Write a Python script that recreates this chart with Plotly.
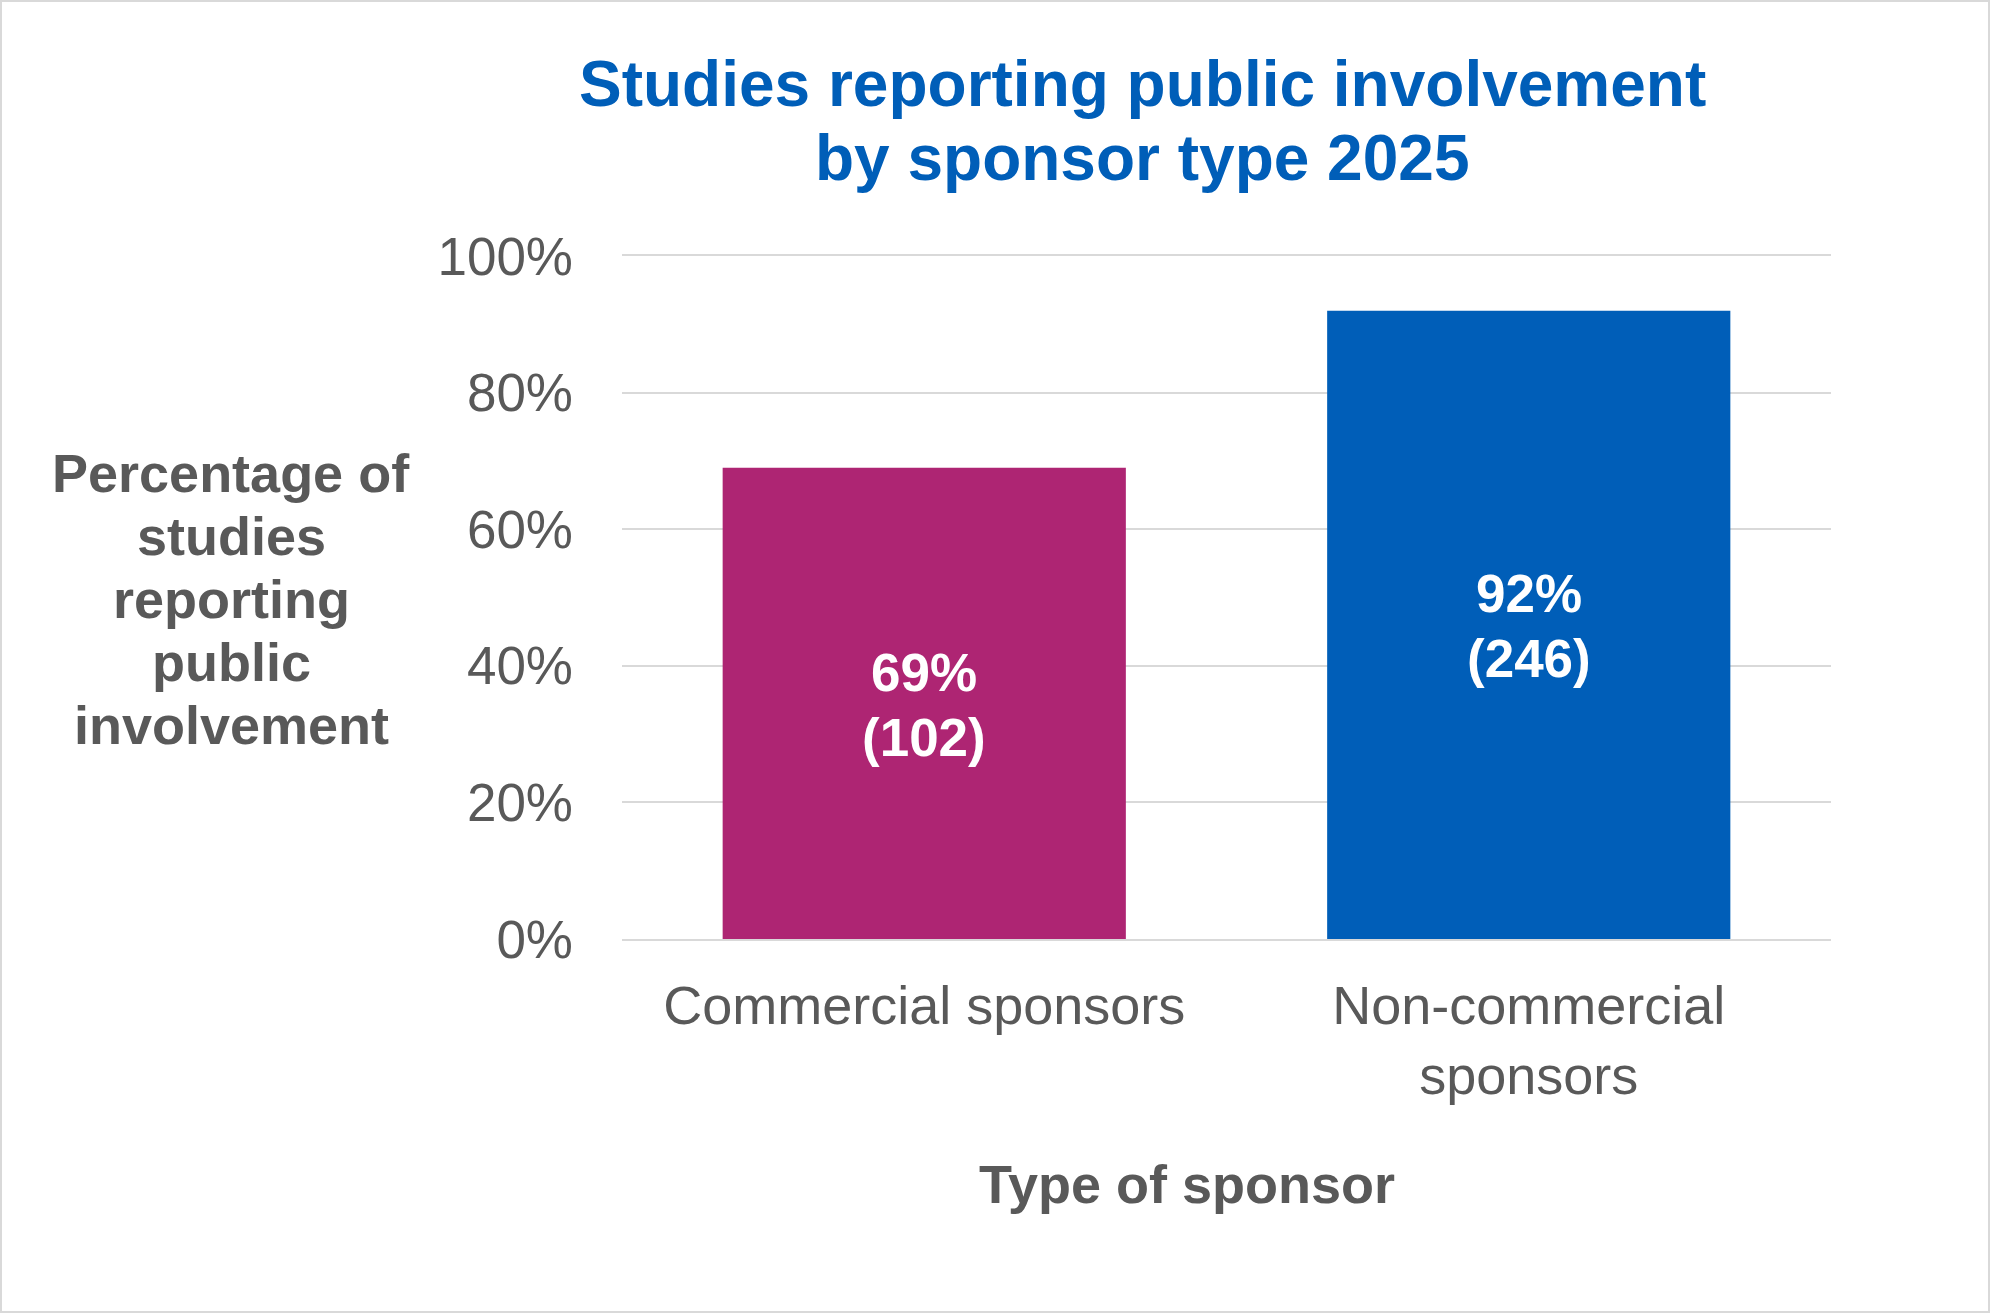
import plotly.graph_objects as go

categories = ["Commercial sponsors", "Non-commercial<br>sponsors"]
percentages = [0.69, 0.92]
counts = [102, 246]
bar_colors = ["#AE2573", "#005EB8"]
y_ticks = [0, 0.2, 0.4, 0.6, 0.8, 1.0]
y_tick_text = ["0%", "20%", "40%", "60%", "80%", "100%"]
title_lines = ["Studies reporting public involvement", "by sponsor type 2025"]
y_title_lines = ["Percentage of", "studies", "reporting", "public", "involvement"]
x_title = "Type of sponsor"

W, H = 1990, 1313
L, R, T, B = 622, 159, 256, 374
pw, ph = W - L - R, H - T - B

def px_x(px):
    return (px - L) / pw

def px_y(py):
    return (H - B - py) / ph

FONT = "Liberation Sans, Arial, sans-serif"
GREY = "#595959"
GRID = "#D9D9D9"

fig = go.Figure(go.Bar(
    x=categories,
    y=percentages,
    marker=dict(color=bar_colors, line=dict(width=0)),
    width=0.667,
    hoverinfo="skip",
))

annotations = []
# data labels (two lines each, centred in the bar)
for cat, p, n in zip(categories, percentages, counts):
    annotations.append(dict(text=f"<b>{p:.0%}</b>", x=cat, y=p / 2, xref="x", yref="y",
                            xanchor="center", yanchor="middle", showarrow=False, yshift=31,
                            font=dict(family=FONT, size=53, color="white")))
    annotations.append(dict(text=f"<b>({n})</b>", x=cat, y=p / 2, xref="x", yref="y",
                            xanchor="center", yanchor="middle", showarrow=False, yshift=-34,
                            font=dict(family=FONT, size=53, color="white")))

# title
for i, line in enumerate(title_lines):
    annotations.append(dict(text=f"<b>{line}</b>", x=px_x(1142), y=px_y(84 + i * 73.6),
                            xref="paper", yref="paper", xanchor="center", yanchor="middle",
                            showarrow=False, font=dict(family=FONT, size=64, color="#005EB8")))

# y-axis title
for i, line in enumerate(y_title_lines):
    annotations.append(dict(text=f"<b>{line}</b>", x=px_x(231), y=px_y(599 + (i - 2) * 62.8),
                            xref="paper", yref="paper", xanchor="center", yanchor="middle",
                            showarrow=False, font=dict(family=FONT, size=54, color=GREY)))

# x-axis title
annotations.append(dict(text=f"<b>{x_title}</b>", x=px_x(1187), y=px_y(1184),
                        xref="paper", yref="paper", xanchor="center", yanchor="middle",
                        showarrow=False, font=dict(family=FONT, size=54, color=GREY)))

fig.update_layout(
    width=W, height=H,
    margin=dict(l=L, r=R, t=T, b=B, pad=0),
    paper_bgcolor="white",
    plot_bgcolor="white",
    showlegend=False,
    font=dict(family=FONT, color=GREY),
    xaxis=dict(
        showgrid=False, zeroline=False,
        showline=True, mirror=True, linecolor=GRID, linewidth=2,
        tickfont=dict(family=FONT, size=54, color=GREY),
        ticks="", ticklabelstandoff=18,
    ),
    yaxis=dict(
        range=[0, 1], tickvals=y_ticks, ticktext=y_tick_text,
        showgrid=True, gridcolor=GRID, gridwidth=2,
        zeroline=False, showline=False,
        tickfont=dict(family=FONT, size=53, color=GREY),
        ticks="", ticklabelstandoff=48,
    ),
    annotations=annotations,
    shapes=[
        dict(type="rect", xref="paper", yref="paper",
             x0=px_x(1), x1=px_x(W - 1), y0=px_y(H - 1), y1=px_y(1),
             line=dict(color=GRID, width=2), fillcolor="rgba(0,0,0,0)",
             layer="below"),
    ],
)

fig.write_html("out.html")
